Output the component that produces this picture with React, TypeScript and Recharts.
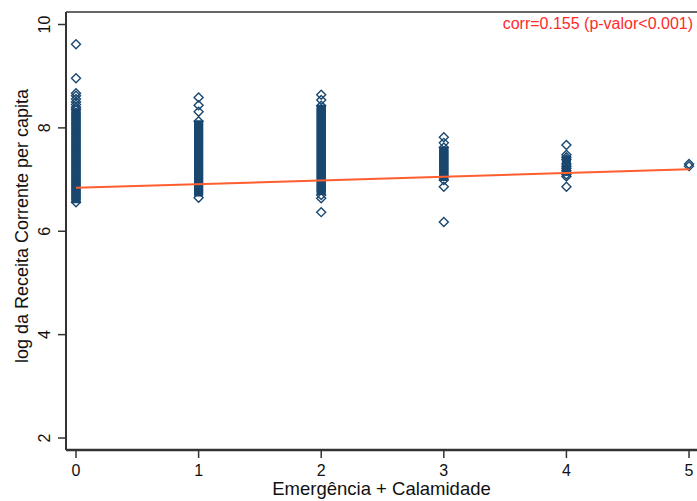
import { ScatterChart, Scatter, XAxis, YAxis, ReferenceLine } from "recharts";

const FONT = "'Liberation Sans', Arial, sans-serif";
const NAVY = "#1a476f";
const FIT = "#ff5e2e";

const xTicks = [0, 1, 2, 3, 4, 5];
const yTicks = [2, 4, 6, 8, 10];

// log da receita corrente per capita por nº de decretos (0..5)
// pontos isolados (marcadores visíveis um a um)
const loose0 = [9.62, 8.96, 8.67, 8.62, 8.56, 8.5, 8.45, 8.4, 8.36, 6.56];
const loose1 = [8.59, 8.44, 8.31, 8.13, 6.65];
const loose2 = [8.64, 8.54, 8.43, 6.7, 6.64, 6.37];
const loose3 = [7.82, 7.71, 7.62, 6.99, 6.86, 6.18];
const loose4 = [7.67, 7.48, 7.43, 7.39, 7.3, 7.26, 7.22, 7.17, 7.1, 7.06, 6.86];
const loose5 = [7.3, 7.26];

// núcleo denso de cada coluna (milhares de marcadores sobrepostos)
const dense0 = [
  8.33, 8.3, 8.27, 8.24, 8.21, 8.18, 8.15, 8.12, 8.09, 8.06, 8.03, 8.0, 7.97,
  7.94, 7.91, 7.88, 7.85, 7.82, 7.79, 7.76, 7.73, 7.7, 7.67, 7.64, 7.61, 7.58,
  7.55, 7.52, 7.49, 7.46, 7.43, 7.4, 7.37, 7.34, 7.31, 7.28, 7.25, 7.22, 7.19,
  7.16, 7.13, 7.1, 7.07, 7.04, 7.01, 6.98, 6.95, 6.92, 6.89, 6.86, 6.83, 6.8,
  6.77, 6.74, 6.71, 6.68, 6.65, 6.62, 6.59,
];
const dense1 = [
  8.1, 8.07, 8.04, 8.01, 7.98, 7.95, 7.92, 7.89, 7.86, 7.83, 7.8, 7.77, 7.74,
  7.71, 7.68, 7.65, 7.62, 7.59, 7.56, 7.53, 7.5, 7.47, 7.44, 7.41, 7.38, 7.35,
  7.32, 7.29, 7.26, 7.23, 7.2, 7.17, 7.14, 7.11, 7.08, 7.05, 7.02, 6.99, 6.96,
  6.93, 6.9, 6.87, 6.84, 6.81, 6.78, 6.75, 6.72,
];
const dense2 = [
  8.4, 8.37, 8.34, 8.31, 8.28, 8.25, 8.22, 8.19, 8.16, 8.13, 8.1, 8.07, 8.04,
  8.01, 7.98, 7.95, 7.92, 7.89, 7.86, 7.83, 7.8, 7.77, 7.74, 7.71, 7.68, 7.65,
  7.62, 7.59, 7.56, 7.53, 7.5, 7.47, 7.44, 7.41, 7.38, 7.35, 7.32, 7.29, 7.26,
  7.23, 7.2, 7.17, 7.14, 7.11, 7.08, 7.05, 7.02, 6.99, 6.96, 6.93, 6.9, 6.87,
  6.84, 6.81, 6.78, 6.75,
];
const dense3 = [
  7.59, 7.56, 7.53, 7.5, 7.47, 7.44, 7.41, 7.38, 7.35, 7.32, 7.29, 7.26, 7.23,
  7.2, 7.17, 7.14, 7.11, 7.08, 7.05, 7.02,
];
const dense4 = [7.41, 7.38, 7.35, 7.24, 7.21, 7.18, 7.15, 7.12];
const dense5: number[] = [];

const looseCols = [loose0, loose1, loose2, loose3, loose4, loose5];
const denseCols = [dense0, dense1, dense2, dense3, dense4, dense5];

const toPoints = (cols: number[][]) =>
  cols.flatMap((vals, i) => vals.map((v) => ({ x: xTicks[i], y: v })));

const loosePoints = toPoints(looseCols);
const densePoints = toPoints(denseCols);

// reta ajustada (lfit)
const fitLine = [
  { x: 0, y: 6.84 },
  { x: 5, y: 7.2 },
];

const diamondPath = (cx: number, cy: number, r: number) =>
  `M${cx},${cy - r}L${cx + r},${cy}L${cx},${cy + r}L${cx - r},${cy}Z`;

const HollowDiamond = (props: any) => {
  const { cx, cy } = props;
  if (cx == null || cy == null) return null;
  return <path d={diamondPath(cx, cy, 4.5)} fill="none" stroke={NAVY} strokeWidth={1.4} />;
};

// marcadores sobrepostos: viram uma faixa contínua
const Stacked = (props: any) => {
  const { cx, cy } = props;
  if (cx == null || cy == null) return null;
  return <rect x={cx - 4.5} y={cy - 2.5} width={9} height={5} fill={NAVY} stroke="none" />;
};

const NoShape = () => <g />;

const XTick = ({ x, payload }: any) => (
  <text x={x} y={476} textAnchor="middle" fontFamily={FONT} fontSize={16} fill="#111">
    {payload.value}
  </text>
);

const YTick = ({ y, payload }: any) => (
  <text
    x={50}
    y={y}
    transform={`rotate(-90 50 ${y})`}
    textAnchor="middle"
    fontFamily={FONT}
    fontSize={16}
    fill="#111"
  >
    {payload.value}
  </text>
);

const XTitle = (props: any) => {
  const vb = props.viewBox || {};
  const cx = vb.x != null ? vb.x + vb.width / 2 : 381;
  return (
    <text x={cx} y={495} textAnchor="middle" fontFamily={FONT} fontSize={18.5} fill="#111">
      Emergência + Calamidade
    </text>
  );
};

const YTitle = () => (
  <text
    x={28}
    y={226}
    transform="rotate(-90 28 226)"
    textAnchor="middle"
    fontFamily={FONT}
    fontSize={18}
    fill="#111"
  >
    log da Receita Corrente per capita
  </text>
);

const Annotation = () => (
  <text x={693} y={29} textAnchor="end" fontFamily={FONT} fontSize={16} fill="#ff2a2a">
    corr=0.155 (p-valor&lt;0.001)
  </text>
);

export default function App() {
  return (
    <div style={{ position: "absolute", left: 0, top: 0, width: 697, height: 501, background: "#fff" }}>
      <ScatterChart width={697} height={501} margin={{ top: 12, right: 0, bottom: 0, left: 0 }}>
        <XAxis
          dataKey="x"
          type="number"
          domain={[-0.0816, 5.065]}
          ticks={xTicks}
          allowDataOverflow
          height={51}
          tickSize={8}
          tickLine={{ stroke: "#333", strokeWidth: 1.5 }}
          axisLine={{ stroke: "#333", strokeWidth: 2.5 }}
          tick={<XTick />}
          label={<XTitle />}
        />
        <YAxis
          dataKey="y"
          type="number"
          domain={[1.768, 10.242]}
          ticks={yTicks}
          allowDataOverflow
          width={66}
          tickSize={8}
          tickLine={{ stroke: "#333", strokeWidth: 1.5 }}
          axisLine={{ stroke: "#333", strokeWidth: 2 }}
          tick={<YTick />}
          label={<YTitle />}
        />
        <ReferenceLine
          y={10.242}
          stroke="#333"
          strokeWidth={1.5}
          ifOverflow="visible"
          label={<Annotation />}
        />
        <Scatter data={loosePoints} shape={<HollowDiamond />} isAnimationActive={false} />
        <Scatter data={densePoints} shape={<Stacked />} isAnimationActive={false} />
        <Scatter
          data={fitLine}
          line={{ stroke: FIT, strokeWidth: 2 }}
          shape={<NoShape />}
          isAnimationActive={false}
        />
      </ScatterChart>
    </div>
  );
}
